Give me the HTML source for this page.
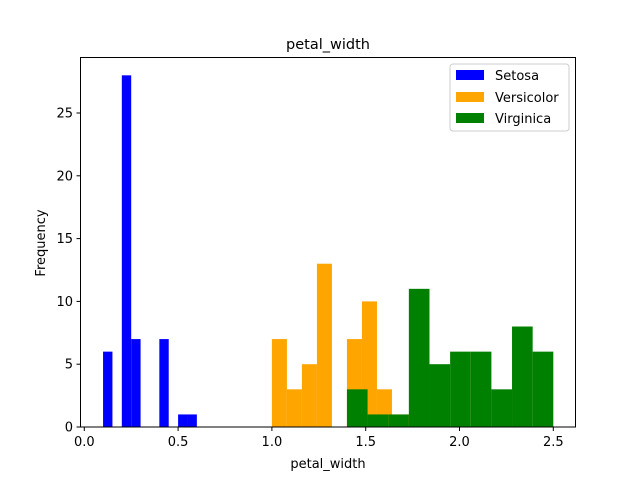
<!DOCTYPE html>
<html><head><meta charset="utf-8"><style>
body{margin:0;background:#fff;font-family:"Liberation Sans","DejaVu Sans",sans-serif}
svg text{font-family:"DejaVu Sans","Liberation Sans",sans-serif;font-size:13px;fill:#000}
</style></head><body>
<svg id="chart" width="640" height="480" viewBox="0 0 640 480">
<rect width="640" height="480" fill="#fff"/>
<g id="bars"></g>
<rect x="80.5" y="57.5" width="495" height="369.5" fill="none" stroke="#000" stroke-width="1"/>
<g id="axes"></g>
<text x="328" y="49" text-anchor="middle" style="font-size:14.5px">petal_width</text>
<text x="328" y="468" text-anchor="middle">petal_width</text>
<text x="45" y="243" text-anchor="middle" transform="rotate(-90 45 243)">Frequency</text>
<g>
<rect x="450" y="64" width="119" height="67" fill="#fff" fill-opacity="0.8" stroke="#ccc" rx="3"/>
<rect x="456" y="70" width="28" height="10" fill="blue"/>
<text x="495" y="80">Setosa</text>
<rect x="456" y="92" width="28" height="10" fill="orange"/>
<text x="495" y="102">Versicolor</text>
<rect x="456" y="113" width="28" height="10" fill="green"/>
<text x="495" y="123">Virginica</text>
</g>
</svg>
<script>
const setosaStart = 0.1, setosaWidth = 0.05;
const setosaCounts = [6,0,28,7,0,0,7,0,1,1];
const versiStart = 1.0, versiWidth = 0.08;
const versiCounts = [7,3,5,13,0,7,10,3,1,1];
const virgStart = 1.4, virgWidth = 0.11;
const virgCounts = [3,1,1,11,5,6,6,3,8,6];
const xTicks = [0,0.5,1.0,1.5,2.0,2.5];
const xTickLabels = ["0.0","0.5","1.0","1.5","2.0","2.5"];
const yTicks = [0,5,10,15,20,25];

const xs = v => 84.3 + v*187.6;
const ys = v => 427 - v*12.56;
const NS = "http://www.w3.org/2000/svg";
const bars = document.getElementById('bars');
function series(name, start, w, counts, color){
  counts.forEach((c,i)=>{
    if(!c) return;
    const r = document.createElementNS(NS,'rect');
    const x0 = xs(start+i*w), x1 = xs(start+(i+1)*w);
    r.setAttribute('x',x0); r.setAttribute('width',x1-x0);
    r.setAttribute('y',ys(c)); r.setAttribute('height',ys(0)-ys(c));
    r.setAttribute('fill',color);
    
    
    bars.appendChild(r);
  });
}
series('setosa', setosaStart, setosaWidth, setosaCounts, 'blue');
series('versicolor', versiStart, versiWidth, versiCounts, 'orange');
series('virginica', virgStart, virgWidth, virgCounts, 'green');

const axes = document.getElementById('axes');
xTicks.forEach((t,i)=>{
  const l = document.createElementNS(NS,'line');
  l.setAttribute('x1',xs(t)); l.setAttribute('x2',xs(t));
  l.setAttribute('y1',427); l.setAttribute('y2',431); l.setAttribute('stroke','#000');
  
  
  axes.appendChild(l);
  const tx = document.createElementNS(NS,'text');
  tx.setAttribute('x',xs(t)); tx.setAttribute('y',446); tx.setAttribute('text-anchor','middle');
  tx.textContent = xTickLabels[i];
  
  
  axes.appendChild(tx);
});
yTicks.forEach(t=>{
  const l = document.createElementNS(NS,'line');
  l.setAttribute('x1',76.5); l.setAttribute('x2',80.5);
  l.setAttribute('y1',ys(t)); l.setAttribute('y2',ys(t)); l.setAttribute('stroke','#000');
  
  
  axes.appendChild(l);
  const tx = document.createElementNS(NS,'text');
  tx.setAttribute('x',73); tx.setAttribute('y',ys(t)+4.5); tx.setAttribute('text-anchor','end');
  tx.textContent = String(t);
  
  
  axes.appendChild(tx);
});
</script>
</body></html>
